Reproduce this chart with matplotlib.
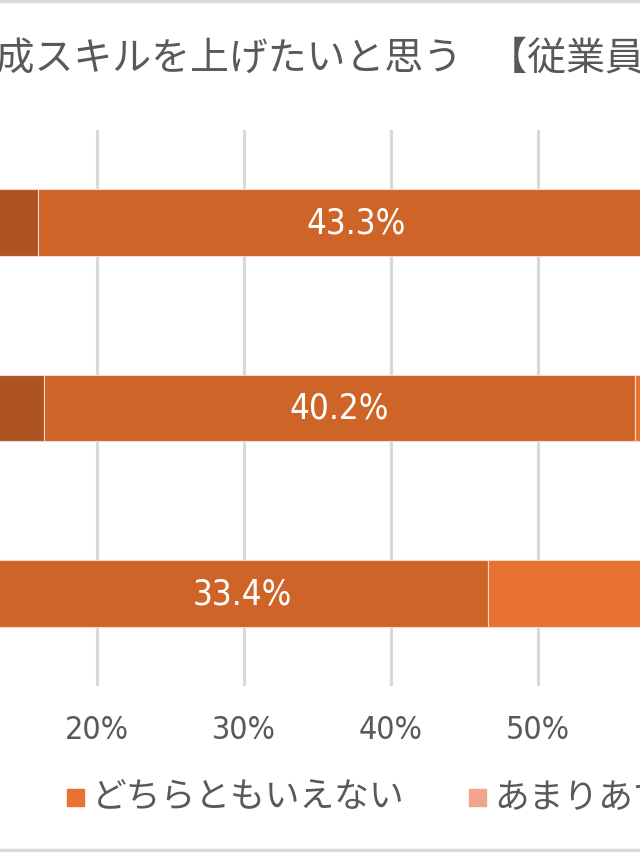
import numpy as np
import matplotlib
matplotlib.use("Agg")
import matplotlib.pyplot as plt
from matplotlib.patches import Rectangle

plt.rcParams['font.family'] = ['Noto Sans CJK JP', 'DejaVu Sans']
NUM_FONT = ['DejaVu Sans']

# data (percent)
categories = ["300人以上", "100～299人", "100人未満"]
labels = ["とてもそう思う", "ややそう思う", "どちらともいえない",
          "あまりあてはまらない", "まったくあてはまらない"]
very = [16.0, 16.4, 13.2]
somewhat = [43.3, 40.2, 33.4]
neutral = [26.5, 28.1, 32.5]
not_much = [9.4, 10.2, 13.6]
not_at_all = [4.8, 5.1, 7.3]
series = [very, somewhat, neutral, not_much, not_at_all]
colors = ["#AE5322", "#CF6429", "#E87232", "#F0A48C", "#F6CDBF"]
title = "人材育成スキルを上げたいと思う   【従業員規模別】"

W, H = 640, 853
fig = plt.figure(figsize=(W / 100, H / 100), dpi=100)

# axes placed so only part of the 0-100% range is visible
x0_px = -197.0
px_per_pct = 14.7
ax_top, ax_bot = 131, 687
ax = fig.add_axes([x0_px / W, 1 - ax_bot / H, 100 * px_per_pct / W, (ax_bot - ax_top) / H])

y = np.arange(len(categories))
left = np.zeros(len(categories))
for vals, col in zip(series, colors):
    vals = np.array(vals)
    bars = ax.barh(y, vals, left=left, height=0.36, color=col,
                   edgecolor="#F6D9CC", linewidth=0.8, zorder=3)
    for b, v in zip(bars, vals):
        ax.text(b.get_x() + b.get_width() / 2, b.get_y() + b.get_height() / 2,
                f"{v:.1f}%", ha="center", va="center", color="white",
                fontsize=25, family=NUM_FONT, stretch="condensed",
                fontweight="light", zorder=4)
    left += vals

ax.set_xlim(0, 100)
ax.set_ylim(len(categories) - 0.5, -0.5)
ax.set_yticks(y)
ax.set_yticklabels(categories, fontsize=22, color="#595959")
ax.set_xticks(np.arange(0, 101, 10))
ax.set_xticklabels([f"{t}%" for t in range(0, 101, 10)], family=NUM_FONT,
                   stretch="condensed")
ax.tick_params(axis="x", length=0, pad=20, labelsize=23, labelcolor="#595959")
ax.tick_params(axis="y", length=0)
ax.grid(axis="x", color="#D9D9D9", linewidth=2.2, zorder=0)
for s in ax.spines.values():
    s.set_visible(False)

# title
fig.text(-121 / W, 1 - 58 / H, title, ha="left", va="center",
         fontsize=28, color="#595959")

# legend drawn manually, entry 3 marker anchored at x=67 px
renderer = fig.canvas.get_renderer()
leg_y = 798
sq = 17
gap_txt = 8
gap_col = 64
widths = []
for lab in labels:
    t = fig.text(0, 0, lab, fontsize=25)
    widths.append(t.get_window_extent(renderer).width)
    t.remove()
xs = [0.0] * len(labels)
xs[2] = 67.0
for i in range(3, len(labels)):
    xs[i] = xs[i - 1] + sq + gap_txt + widths[i - 1] + gap_col
for i in range(1, -1, -1):
    xs[i] = xs[i + 1] - gap_col - widths[i] - gap_txt - sq
for lab, col, xp, w in zip(labels, colors, xs, widths):
    fig.patches.append(Rectangle((xp / W, 1 - (leg_y + sq / 2) / H), sq / W, sq / H,
                                 transform=fig.transFigure, color=col))
    fig.text((xp + sq + gap_txt) / W, 1 - leg_y / H, lab, ha="left", va="center",
             fontsize=25, color="#595959")

# outer border lines
fig.patches.append(Rectangle((0, 1 - 2.5 / H), 1, 2.5 / H, transform=fig.transFigure, color="#D9D9D9"))
fig.patches.append(Rectangle((0, 0), 1, 3 / H, transform=fig.transFigure, color="#D9D9D9"))

fig.savefig("out.png", dpi=100)
